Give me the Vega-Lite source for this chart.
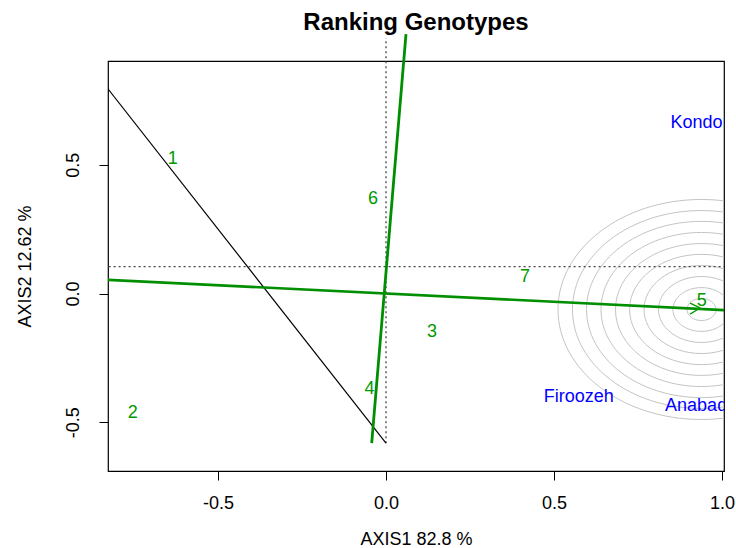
{
  "$schema": "https://vega.github.io/schema/vega-lite/v6.json",
  "width": 616,
  "height": 410,
  "autosize": {"type": "none"},
  "padding": {"left": 108, "top": 61, "right": 12, "bottom": 77},
  "background": "white",
  "title": {"text": "Ranking Genotypes", "font": "Liberation Sans", "fontSize": 24, "fontWeight": "bold", "color": "black", "anchor": "middle", "frame": "group", "offset": -6},
  "config": {"view": {"stroke": "black", "strokeWidth": 1.2}},
  "datasets": {
    "circles": [
      {"x": 0.939, "y": -0.062, "r": 0.043},
      {"x": 0.939, "y": -0.062, "r": 0.085},
      {"x": 0.939, "y": -0.062, "r": 0.128},
      {"x": 0.939, "y": -0.062, "r": 0.171},
      {"x": 0.939, "y": -0.062, "r": 0.214},
      {"x": 0.939, "y": -0.062, "r": 0.256},
      {"x": 0.939, "y": -0.062, "r": 0.299},
      {"x": 0.939, "y": -0.062, "r": 0.342},
      {"x": 0.939, "y": -0.062, "r": 0.384},
      {"x": 0.939, "y": -0.062, "r": 0.427}
    ],
    "hline": [{"x": -0.9, "x2": 1.1, "y": 0.104}],
    "vline": [{"x": 0.0, "y": -0.581, "y2": 0.992}],
    "blackline": [{"x": -0.9, "y": 0.915}, {"x": 0.0, "y": -0.581}],
    "atc": [{"x": -0.86, "y": 0.0551}, {"x": 1.03, "y": -0.066}],
    "ordinate": [{"x": -0.0426, "y": -0.581}, {"x": 0.0595, "y": 1.007}],
    "arrow": [
      {"arm": "a", "x": 0.905, "y": -0.037},
      {"arm": "a", "x": 0.935, "y": -0.056},
      {"arm": "b", "x": 0.905, "y": -0.080},
      {"arm": "b", "x": 0.935, "y": -0.056}
    ],
    "genotypes": [
      {"label": "1", "x": -0.635, "y": 0.521},
      {"label": "2", "x": -0.754, "y": -0.463},
      {"label": "3", "x": 0.137, "y": -0.150},
      {"label": "4", "x": -0.049, "y": -0.371},
      {"label": "5", "x": 0.940, "y": -0.029},
      {"label": "6", "x": -0.039, "y": 0.367},
      {"label": "7", "x": 0.414, "y": 0.064}
    ],
    "environments": [
      {"label": "Kondo", "x": 0.924, "y": 0.662},
      {"label": "Anabad", "x": 0.923, "y": -0.437},
      {"label": "Firoozeh", "x": 0.574, "y": -0.402}
    ]
  },
  "encoding": {
    "x": {
      "field": "x", "type": "quantitative",
      "scale": {"domain": [-0.8274, 1.006], "nice": false, "zero": false},
      "axis": {
        "title": "AXIS1 82.8 %", "values": [-0.5, 0, 0.5, 1], "format": ".1f",
        "labelExpr": "replace(datum.label, '\u2212', '-')",
        "grid": false, "domain": false, "tickSize": 9, "tickColor": "black", "tickWidth": 1,
        "labelPadding": 14, "labelFont": "Liberation Sans", "labelFontSize": 18, "labelColor": "black",
        "labelFlush": false, "labelOverlap": false,
        "titleFont": "Liberation Sans", "titleFontSize": 18, "titleFontWeight": "normal", "titleColor": "black", "titlePadding": 18
      }
    },
    "y": {
      "field": "y", "type": "quantitative",
      "scale": {"domain": [-0.689, 0.9026], "nice": false, "zero": false},
      "axis": {
        "title": "AXIS2 12.62 %", "values": [-0.5, 0, 0.5], "format": ".1f",
        "labelExpr": "replace(datum.label, '\u2212', '-')",
        "grid": false, "domain": false, "tickSize": 9, "tickColor": "black", "tickWidth": 1,
        "labelAngle": -90, "labelAlign": "center", "labelBaseline": "alphabetic", "labelPadding": 21,
        "labelFont": "Liberation Sans", "labelFontSize": 18, "labelColor": "black",
        "labelFlush": false, "labelOverlap": false,
        "titleFont": "Liberation Sans", "titleFontSize": 18, "titleFontWeight": "normal", "titleColor": "black", "titlePadding": 30
      }
    }
  },
  "layer": [
    {
      "data": {"name": "circles"},
      "mark": {"type": "point", "clip": true, "filled": false, "stroke": "#c4c4c4", "strokeWidth": 1, "opacity": 1,
        "shape": "M-1,0A1,0.7666,0,1,1,1,0A1,0.7666,0,1,1,-1,0Z"},
      "encoding": {
        "size": {"field": "r", "type": "quantitative", "scale": {"type": "pow", "exponent": 2, "domain": [0, 1], "range": [0, 451720]}, "legend": null}
      }
    },
    {
      "data": {"name": "hline"},
      "mark": {"type": "rule", "clip": true, "color": "#444444", "strokeWidth": 1.3, "strokeDash": [2, 3]},
      "encoding": {"x2": {"field": "x2"}}
    },
    {
      "data": {"name": "vline"},
      "mark": {"type": "rule", "color": "#444444", "strokeWidth": 1.3, "strokeDash": [2, 3]},
      "encoding": {"y2": {"field": "y2"}}
    },
    {
      "data": {"name": "blackline"},
      "mark": {"type": "line", "clip": true, "color": "black", "strokeWidth": 1.2},
      "encoding": {}
    },
    {
      "data": {"name": "atc"},
      "mark": {"type": "line", "clip": true, "color": "#008f00", "strokeWidth": 2.6},
      "encoding": {}
    },
    {
      "data": {"name": "ordinate"},
      "mark": {"type": "line", "color": "#008f00", "strokeWidth": 2.8},
      "encoding": {}
    },
    {
      "data": {"name": "arrow"},
      "mark": {"type": "line", "color": "#009900", "strokeWidth": 1.3},
      "encoding": {"detail": {"field": "arm"}}
    },
    {
      "data": {"name": "genotypes"},
      "mark": {"type": "text", "font": "Liberation Sans", "fontSize": 18, "color": "#009900", "align": "center", "baseline": "middle"},
      "encoding": {"text": {"field": "label"}}
    },
    {
      "data": {"name": "environments"},
      "mark": {"type": "text", "clip": true, "font": "Liberation Sans", "fontSize": 18, "color": "#0000ff", "align": "center", "baseline": "middle"},
      "encoding": {"text": {"field": "label"}}
    }
  ]
}
